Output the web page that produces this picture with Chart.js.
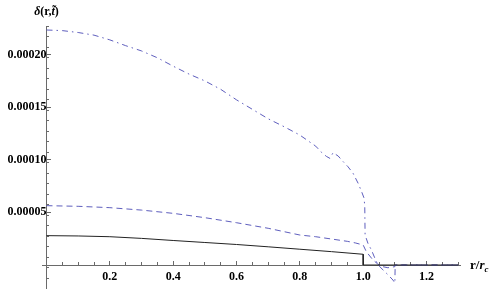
<!DOCTYPE html>
<html><head><meta charset="utf-8">
<script src="https://cdn.jsdelivr.net/npm/chart.js@4.4.1/dist/chart.umd.min.js"></script>
<style>html,body{margin:0;padding:0;background:#fff;overflow:hidden}</style>
</head><body>
<canvas id="c" width="499" height="289"></canvas>
<script>
// ---- data (values in units of 1e-5) ----
const xTickValues = [0.2, 0.4, 0.6, 0.8, 1.0, 1.2];
const xTickLabels = ['0.2', '0.4', '0.6', '0.8', '1.0', '1.2'];
const yTickValues = [0.00005, 0.00010, 0.00015, 0.00020];
const yTickLabels = ['0.00005', '0.00010', '0.00015', '0.00020'];

const rSolid = [0, 0.1, 0.2, 0.3, 0.4, 0.5, 0.6, 0.7, 0.8, 0.9, 1.0, 1.0, 1.3];
const vSolid = [2.79, 2.76, 2.69, 2.53, 2.33, 2.14, 1.95, 1.73, 1.50, 1.27, 1.02, 0, 0];

const rDashed = [0, 0.1, 0.2, 0.3, 0.4, 0.5, 0.6, 0.7, 0.8, 0.85, 0.9, 0.95, 0.975, 1.0, 1.01, 1.031, 1.046, 1.062, 1.078, 1.1, 1.101, 1.3];
const vDashed = [5.64, 5.58, 5.45, 5.22, 4.91, 4.50, 4.02, 3.49, 2.85, 2.69, 2.47, 2.25, 2.10, 1.90, 1.26, 0.475, 0.095, -0.16, -0.26, -0.16, 0, 0];

const rDashDot = [0, 0.05, 0.1, 0.15, 0.2, 0.25, 0.3, 0.35, 0.4, 0.45, 0.5, 0.55, 0.6, 0.65, 0.7, 0.75, 0.8, 0.85, 0.868, 0.884, 0.895, 0.905, 0.921, 0.937, 0.952, 0.968, 0.984, 0.995, 1.003, 1.005, 1.006, 1.015, 1.026, 1.037, 1.047, 1.063, 1.079, 1.094, 1.1, 1.101, 1.3];
const vDashDot = [22.34, 22.28, 22.10, 21.85, 21.40, 20.85, 20.35, 19.70, 18.90, 18.15, 17.50, 16.70, 15.70, 14.80, 13.90, 13.15, 12.35, 11.30, 10.72, 10.32, 10.14, 10.68, 10.36, 9.82, 9.34, 8.72, 7.77, 6.97, 6.34, 5.54, 2.85, 2.06, 1.43, 0.64, 0, -0.475, -0.95, -1.43, -1.71, 0, 0];

const UNIT = 1e-5;
function pts(r, v) { return r.map((x, i) => ({ x: x, y: v[i] * UNIT })); }

const axisColor = '#6a6a6a';
const tickFont = { family: '"Liberation Serif", "Times New Roman", serif', size: 12, weight: 'bold' };

function noSpaceX(s) { s.height = 0; s.paddingLeft = 0; s.paddingRight = 0; s.paddingTop = 0; s.paddingBottom = 0; }
function noSpaceY(s) { s.width = 0; s.paddingLeft = 0; s.paddingRight = 0; s.paddingTop = 0; s.paddingBottom = 0; }

const labelPlugin = {
  id: 'axisLabels',
  afterDraw(chart) {
    const ctx = chart.ctx;
    ctx.save();
    ctx.fillStyle = '#000';
    ctx.textBaseline = 'alphabetic';
    ctx.textAlign = 'left';
    const fam = '"Liberation Serif", "Times New Roman", serif';
    const widthOf = (arr) => { let w = 0; for (const [t, f] of arr) { ctx.font = f; w += ctx.measureText(t).width; } return w; };
    const parts = (arr, x, y) => {
      for (const [t, f] of arr) { ctx.font = f; ctx.fillText(t, x, y); x += ctx.measureText(t).width; }
      return x;
    };
    // y axis label, centred over the y axis
    const yl = [
      ['\u03B4', 'italic bold 12px ' + fam],
      ['(r,', 'bold 12px ' + fam],
      ['t\u0303', 'italic bold 12px ' + fam],
      [')', 'bold 12px ' + fam]
    ];
    const ax = chart.scales.x.getPixelForValue(0);
    parts(yl, ax - widthOf(yl) / 2, 15);
    // x axis label
    let x = parts([
      ['r/', 'bold 13px ' + fam],
      ['r', 'italic bold 13px ' + fam]
    ], 470, 268.5);
    ctx.font = 'italic bold 9px ' + fam;
    ctx.fillText('c', x, 271.5);
    ctx.restore();
  }
};

new Chart(document.getElementById('c'), {
  type: 'scatter',
  data: {
    datasets: [
      { data: pts(rSolid, vSolid), showLine: true, borderColor: '#222', borderWidth: 1, pointRadius: 0, tension: 0, order: 1 },
      { data: pts(rDashed, vDashed), showLine: true, borderColor: 'rgba(85,85,185,0.95)', borderWidth: 1, borderDash: [6, 4], pointRadius: 0, tension: 0, order: 2 },
      { data: pts(rDashDot, vDashDot), showLine: true, borderColor: 'rgba(85,85,185,0.95)', borderWidth: 1, borderDash: [6, 4, 1.5, 4], pointRadius: 0, tension: 0, order: 3 }
    ]
  },
  options: {
    responsive: false,
    animation: false,
    devicePixelRatio: 1,
    layout: { padding: { left: 42, right: 39, top: 26, bottom: 0 } },
    plugins: { legend: { display: false }, tooltip: { enabled: false }, title: { display: false } },
    scales: {
      x: {
        type: 'linear', axis: 'x', position: { y: 0 },
        min: -0.0142, max: 1.3057,
        afterBuildTicks(s) { s.ticks = xTickValues.map(v => ({ value: v })); },
        afterFit: noSpaceX,
        ticks: { callback: (v, i) => xTickLabels[i], font: tickFont, color: '#000', padding: 10, maxRotation: 0, autoSkip: false },
        grid: { display: true, drawOnChartArea: false, drawTicks: true, tickLength: -5, tickColor: axisColor, tickWidth: 1 },
        border: { display: true, color: axisColor, width: 1 }
      },
      x2: {
        type: 'linear', axis: 'x', position: { y: 0 },
        min: -0.0142, max: 1.3057,
        afterFit: noSpaceX,
        ticks: { stepSize: 0.05, includeBounds: false, callback: () => '', autoSkip: false, maxRotation: 0 },
        grid: { display: true, drawOnChartArea: false, drawTicks: true, tickLength: -3, tickColor: axisColor, tickWidth: 1 },
        border: { display: false }
      },
      y: {
        type: 'linear', axis: 'y', position: { x: 0 },
        min: -0.00002281, max: 0.00022719,
        afterBuildTicks(s) { s.ticks = yTickValues.map(v => ({ value: v })); },
        afterFit: noSpaceY,
        ticks: { callback: (v, i) => yTickLabels[i], font: tickFont, color: '#000', padding: 9, autoSkip: false },
        grid: { display: true, drawOnChartArea: false, drawTicks: true, tickLength: -5, tickColor: axisColor, tickWidth: 1 },
        border: { display: true, color: axisColor, width: 1 }
      },
      y2: {
        type: 'linear', axis: 'y', position: { x: 0 },
        min: -0.00002281, max: 0.00022719,
        afterFit: noSpaceY,
        ticks: { stepSize: 0.00001, includeBounds: false, callback: () => '', autoSkip: false },
        grid: { display: true, drawOnChartArea: false, drawTicks: true, tickLength: -3, tickColor: axisColor, tickWidth: 1 },
        border: { display: false }
      }
    }
  },
  plugins: [labelPlugin]
});
</script>
</body></html>
